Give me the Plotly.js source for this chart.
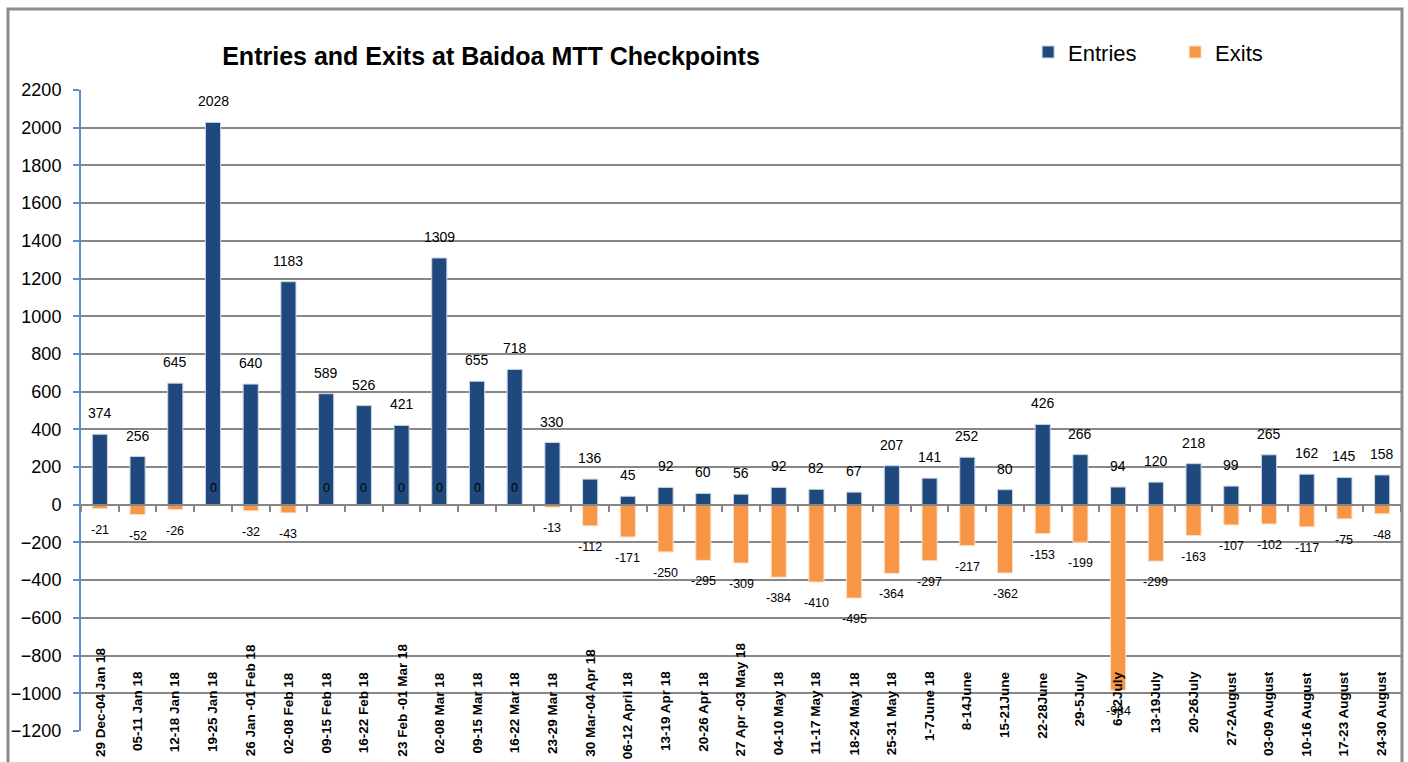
<!DOCTYPE html>
<html>
<head>
<meta charset="utf-8">
<script src="https://cdn.plot.ly/plotly-3.0.1.min.js"></script>
<style>
  html, body { margin: 0; padding: 0; background: #ffffff; }
  #chart { width: 1408px; height: 762px; }
</style>
</head>
<body>
<div id="chart"></div>
<script>
const categories = [
  "29 Dec-04 Jan 18", "05-11 Jan 18", "12-18 Jan 18", "19-25 Jan 18", "26 Jan -01 Feb 18",
  "02-08 Feb 18", "09-15 Feb 18", "16-22 Feb 18", "23 Feb -01 Mar 18", "02-08 Mar 18",
  "09-15 Mar 18", "16-22 Mar 18", "23-29 Mar 18", "30 Mar-04 Apr 18", "06-12 April 18",
  "13-19 Apr 18", "20-26 Apr 18", "27 Apr -03 May 18", "04-10 May 18", "11-17 May 18",
  "18-24 May 18", "25-31 May 18", "1-7June 18", "8-14June", "15-21June",
  "22-28June", "29-5July", "6-12July", "13-19July", "20-26July",
  "27-2August", "03-09 August", "10-16 August", "17-23 August", "24-30 August"
];
const entries = [
  374, 256, 645, 2028, 640,
  1183, 589, 526, 421, 1309,
  655, 718, 330, 136, 45,
  92, 60, 56, 92, 82,
  67, 207, 141, 252, 80,
  426, 266, 94, 120, 218,
  99, 265, 162, 145, 158
];
const exits = [
  -21, -52, -26, 0, -32,
  -43, 0, 0, 0, 0,
  0, 0, -13, -112, -171,
  -250, -295, -309, -384, -410,
  -495, -364, -297, -217, -362,
  -153, -199, -984, -299, -163,
  -107, -102, -117, -75, -48
];
const yTicks = [2200, 2000, 1800, 1600, 1400, 1200, 1000, 800, 600, 400, 200, 0, -200, -400, -600, -800, -1000, -1200];

const FONT = "Liberation Sans, Arial, sans-serif";
const BLUE = "#1f497d";
const ORANGE = "#f79646";

const traces = [
  {
    type: "bar", name: "Entries", x: categories, y: entries, width: 0.4,
    marker: { color: BLUE, line: { color: "#c9d3e3", width: 1 } },
    hoverinfo: "x+y"
  },
  {
    type: "bar", name: "Exits", x: categories, y: exits, width: 0.4,
    marker: { color: ORANGE, line: { color: "#fde0c8", width: 1 } },
    hoverinfo: "x+y"
  }
];

const annotations = [];
categories.forEach((c, i) => {
  const long = c.length > 14;
  annotations.push({
    x: c, xref: "x", yref: "paper",
    y: long ? -0.043 : 0.096,
    yanchor: long ? "bottom" : "top",
    xanchor: "center",
    textangle: -90, showarrow: false, text: c,
    font: { family: FONT, size: 13.5, color: "#000", weight: "bold" }
  });
  annotations.push({
    x: c, xref: "x", y: entries[i], yref: "y", yshift: 21,
    showarrow: false, text: String(entries[i]),
    font: { family: FONT, size: 14, color: "#000" }
  });
  annotations.push({
    x: c, xref: "x", y: exits[i], yref: "y", yshift: exits[i] === 0 ? 17 : -21,
    showarrow: false, text: String(exits[i]),
    font: { family: FONT, size: 12.5, color: "#000" }
  });
});

const layout = {
  width: 1408, height: 762,
  margin: { l: 81, r: 7, t: 90, b: 31, pad: 0 },
  paper_bgcolor: "#ffffff", plot_bgcolor: "#ffffff",
  font: { family: FONT, color: "#000" },
  barmode: "overlay",
  showlegend: true,
  title: {
    text: "<b>Entries and Exits at Baidoa MTT Checkpoints</b>",
    font: { family: FONT, size: 25, color: "#000" },
    x: 491 / 1408, xref: "container", xanchor: "center",
    y: 1 - 56 / 762, yref: "container", yanchor: "middle"
  },
  legend: {
    orientation: "h", x: 0.7175, xanchor: "left", y: 1.059, yanchor: "middle",
    font: { family: FONT, size: 22, color: "#000" },
    bgcolor: "rgba(0,0,0,0)", entrywidth: 102, traceorder: "normal"
  },
  xaxis: {
    type: "category", range: [-0.5, 34.5],
    showticklabels: false, showgrid: false, zeroline: false,
    ticks: "outside", tickson: "boundaries", ticklen: 6, tickwidth: 2, tickcolor: "#878787",
    showline: true, linecolor: "#878787", linewidth: 2,
    anchor: "free", position: 1200 / 3400
  },
  yaxis: {
    range: [-1200, 2200], tickmode: "array", tickvals: yTicks,
    gridcolor: "#878787", gridwidth: 2, zeroline: false,
    showline: true, linecolor: "#5b8bd0", linewidth: 2,
    ticks: "outside", ticklen: 6, tickwidth: 2, tickcolor: "#5b8bd0",
    tickfont: { family: FONT, size: 18, color: "#000" },
    ticklabelstandoff: 8
  },
  shapes: [{
    type: "rect", xref: "paper", yref: "paper",
    x0: (8 - 81) / 1320, x1: (1402 - 81) / 1320,
    y0: -0.1, y1: (731 - 9) / 641,
    line: { color: "#8c8c8c", width: 3 }, fillcolor: "rgba(0,0,0,0)", layer: "below"
  }],
  annotations: annotations
};

Plotly.newPlot("chart", traces, layout, { displayModeBar: false, responsive: false });
</script>
</body>
</html>
